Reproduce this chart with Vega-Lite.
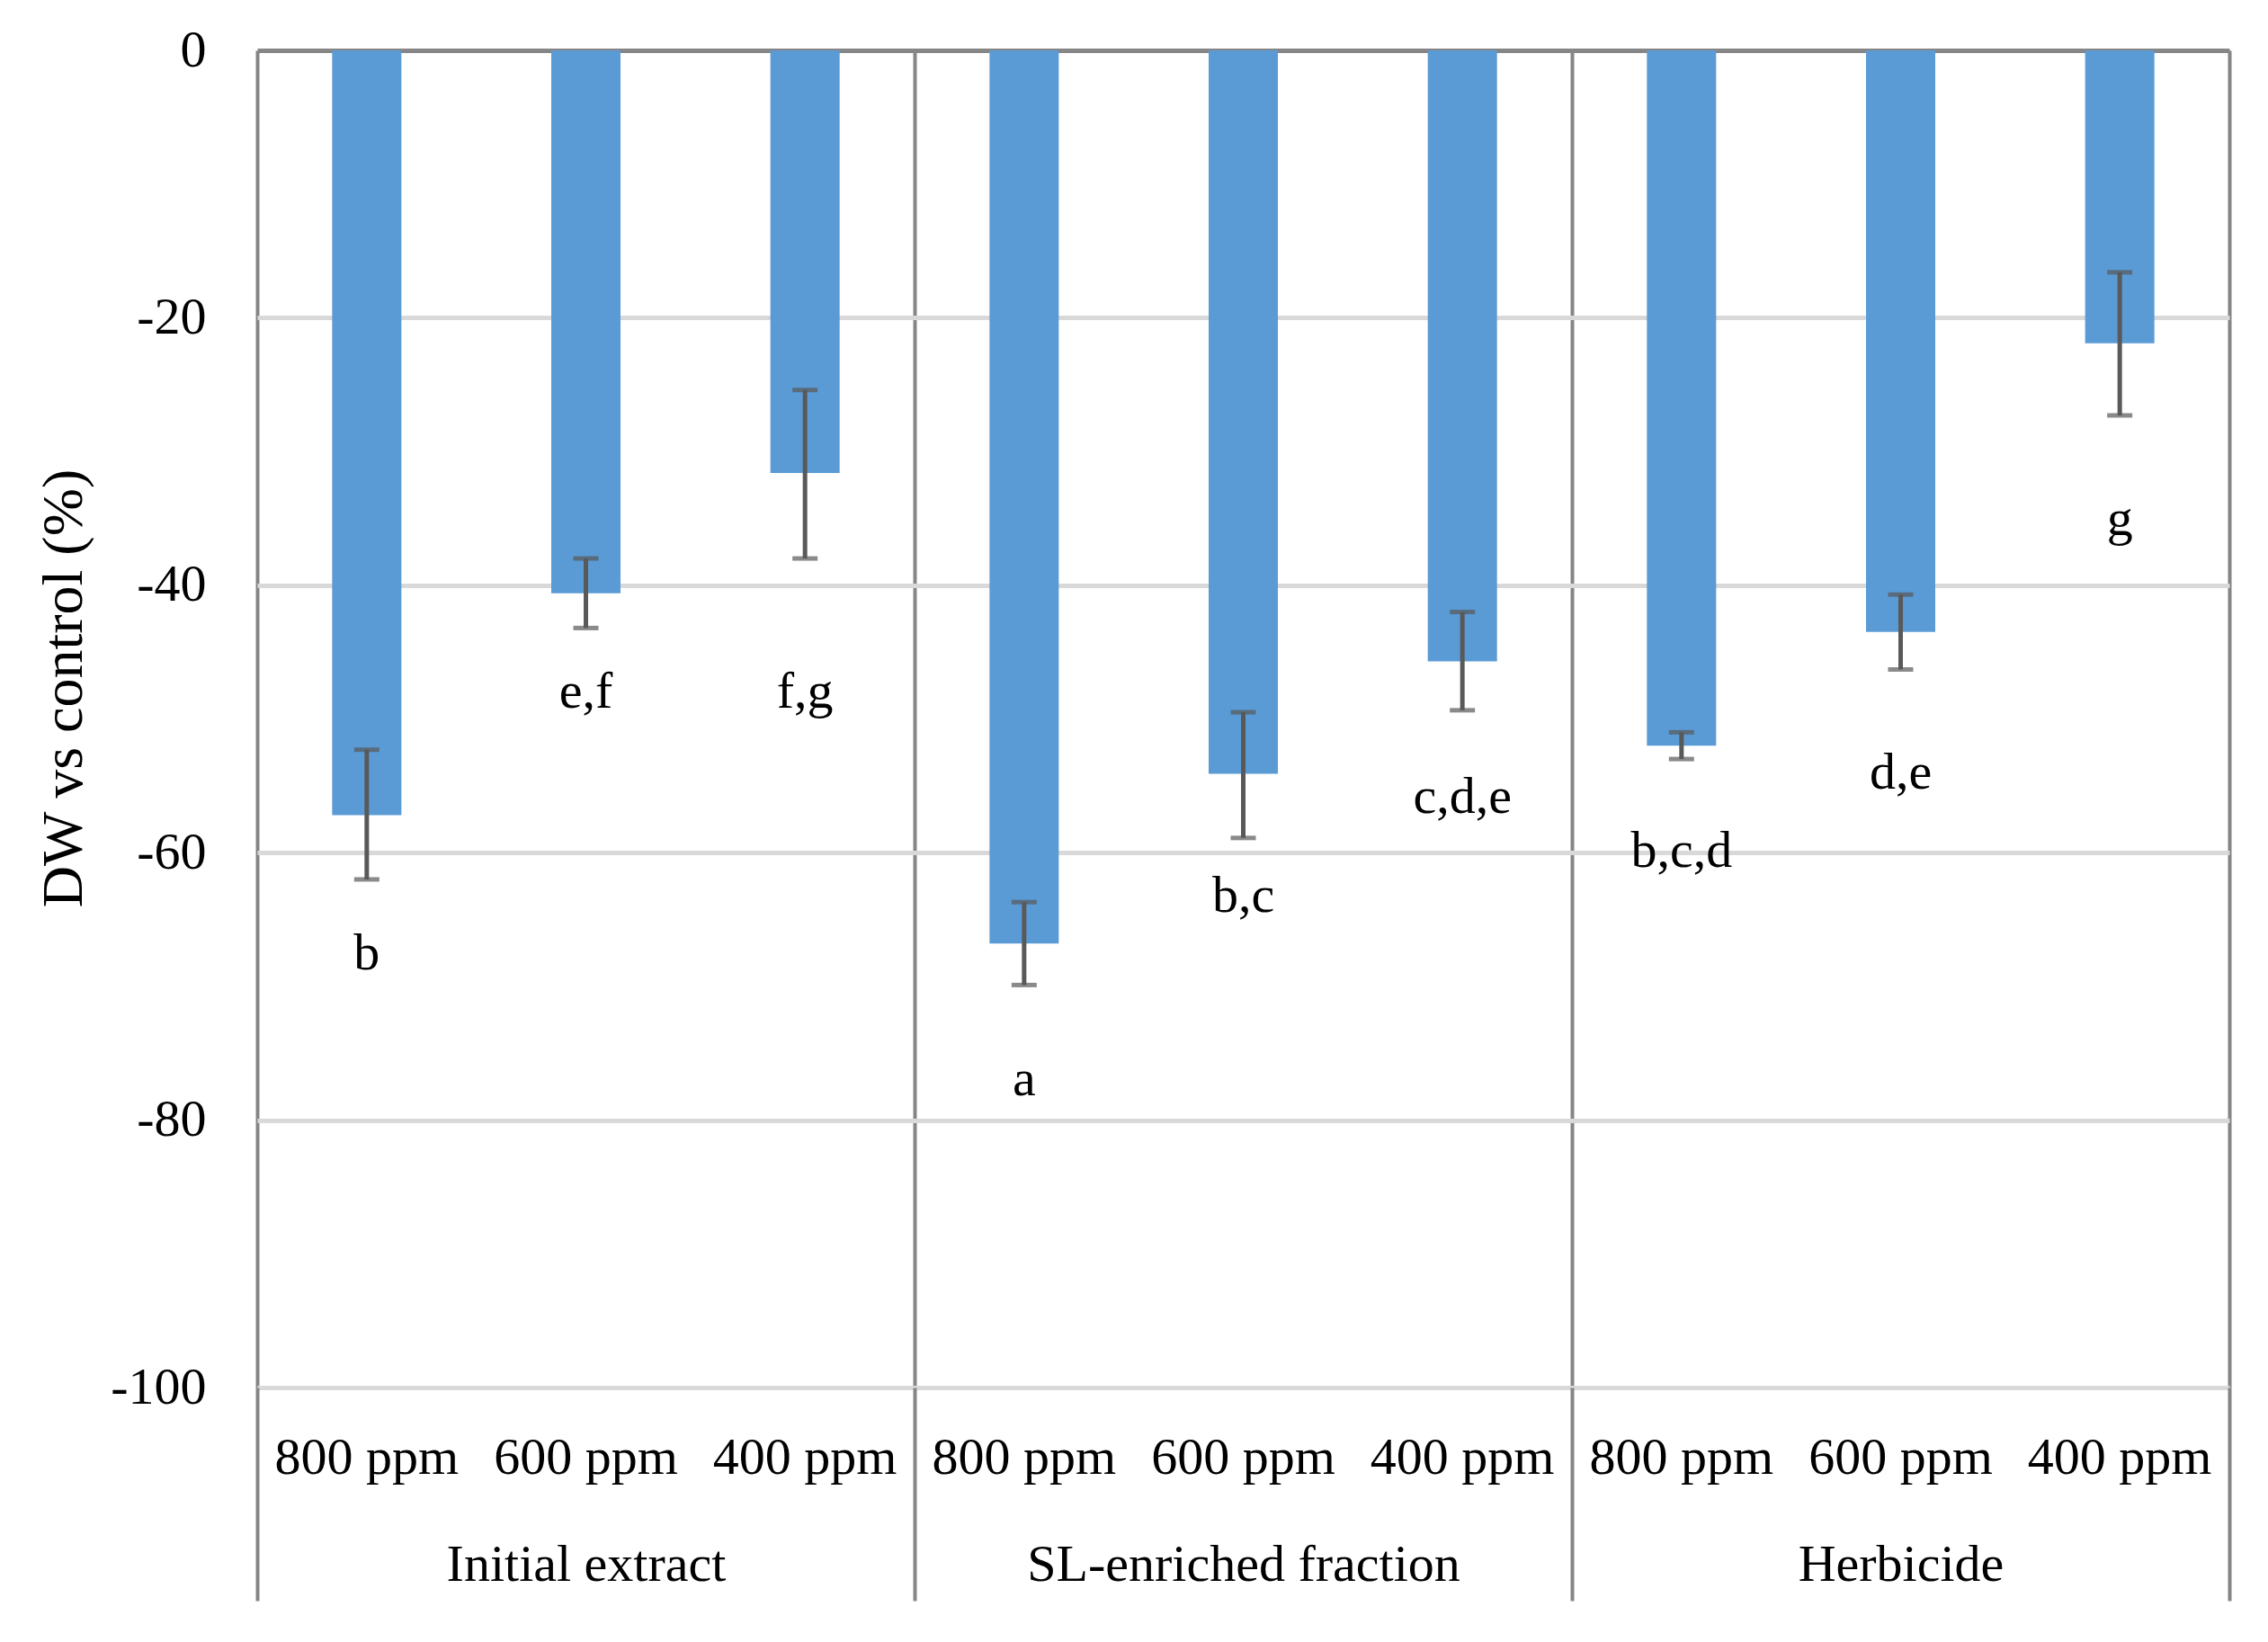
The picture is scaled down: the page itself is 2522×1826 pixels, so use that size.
{
  "$schema": "https://vega.github.io/schema/vega-lite/v6.json",
  "autosize": "none",
  "width": 2193,
  "height": 1487,
  "padding": {"left": 286, "top": 56, "right": 43, "bottom": 283},
  "background": "white",
  "config": {
    "font": "Liberation Serif",
    "view": {"stroke": null},
    "axis": {"labelColor": "#000000", "titleColor": "#000000", "labelFont": "Liberation Serif", "titleFont": "Liberation Serif", "labelLimit": 0}
  },
  "data": {
    "values": [
      {"group": "Initial extract", "dose": "800 ppm", "key": "Initial extract|800 ppm", "value": -57.2, "lo": -62.0, "hi": -52.3, "letter": "b", "label_y": -67.6},
      {"group": "Initial extract", "dose": "600 ppm", "key": "Initial extract|600 ppm", "value": -40.6, "lo": -43.2, "hi": -38.0, "letter": "e,f", "label_y": -48.0},
      {"group": "Initial extract", "dose": "400 ppm", "key": "Initial extract|400 ppm", "value": -31.6, "lo": -38.0, "hi": -25.4, "letter": "f,g", "label_y": -48.0},
      {"group": "SL-enriched fraction", "dose": "800 ppm", "key": "SL-enriched fraction|800 ppm", "value": -66.8, "lo": -69.9, "hi": -63.7, "letter": "a", "label_y": -77.0},
      {"group": "SL-enriched fraction", "dose": "600 ppm", "key": "SL-enriched fraction|600 ppm", "value": -54.1, "lo": -58.9, "hi": -49.5, "letter": "b,c", "label_y": -63.3},
      {"group": "SL-enriched fraction", "dose": "400 ppm", "key": "SL-enriched fraction|400 ppm", "value": -45.7, "lo": -49.35, "hi": -42.0, "letter": "c,d,e", "label_y": -55.9},
      {"group": "Herbicide", "dose": "800 ppm", "key": "Herbicide|800 ppm", "value": -52.0, "lo": -53.0, "hi": -51.0, "letter": "b,c,d", "label_y": -59.9},
      {"group": "Herbicide", "dose": "600 ppm", "key": "Herbicide|600 ppm", "value": -43.5, "lo": -46.3, "hi": -40.7, "letter": "d,e", "label_y": -54.1},
      {"group": "Herbicide", "dose": "400 ppm", "key": "Herbicide|400 ppm", "value": -21.9, "lo": -27.3, "hi": -16.6, "letter": "g", "label_y": -35.1}
    ]
  },
  "layer": [
    {
      "encoding": {
        "x": {
          "field": "key", "type": "nominal", "sort": null,
          "scale": {"paddingInner": 0.684, "paddingOuter": 0.342},
          "axis": {
            "orient": "bottom", "title": null, "domain": false, "ticks": false, "grid": false,
            "labelExpr": "split(datum.label, '|')[1]", "labelAngle": 0, "labelLimit": 0,
            "labelFontSize": 58, "labelPadding": 78, "labelBaseline": "middle"
          }
        }
      },
      "layer": [
        {
          "mark": {"type": "bar", "color": "#5B9BD5"},
          "encoding": {
            "y": {
              "field": "value", "type": "quantitative",
              "scale": {"domain": [-100, 0], "nice": false, "zero": false},
              "axis": {
                "values": [-100, -80, -60, -40, -20, 0],
                "labelExpr": "toString(datum.value)",
                "title": "DW vs control (%)", "titleFontSize": 64, "titleFontWeight": "normal", "titlePadding": 19, "titleY": 709,
                "labelFontSize": 58, "labelPadding": 57, "ticks": false, "domain": false,
                "grid": true, "gridWidth": 5,
                "gridColor": {"condition": {"test": "datum.value === 0", "value": "#868686"}, "value": "#D9D9D9"}
              }
            }
          }
        },
        {
          "mark": {"type": "rule", "color": "#595959", "strokeWidth": 5},
          "encoding": {
            "y": {"field": "lo", "type": "quantitative"},
            "y2": {"field": "hi"}
          }
        },
        {
          "mark": {"type": "tick", "color": "#595959", "size": 28, "thickness": 5, "orient": "horizontal"},
          "encoding": {"y": {"field": "lo", "type": "quantitative"}}
        },
        {
          "mark": {"type": "tick", "color": "#595959", "size": 28, "thickness": 5, "orient": "horizontal"},
          "encoding": {"y": {"field": "hi", "type": "quantitative"}}
        },
        {
          "mark": {"type": "text", "fontSize": 58, "baseline": "middle", "align": "center", "color": "#000000"},
          "encoding": {
            "y": {"field": "label_y", "type": "quantitative"},
            "text": {"field": "letter", "type": "nominal"}
          }
        }
      ]
    },
    {
      "mark": {"type": "point", "opacity": 0},
      "encoding": {
        "x": {
          "field": "group", "type": "nominal",
          "sort": ["Initial extract", "SL-enriched fraction", "Herbicide"],
          "scale": {"paddingInner": 0, "paddingOuter": 0},
          "axis": {
            "orient": "bottom", "title": null, "domain": false,
            "ticks": true, "tickBand": "extent", "tickSize": 237, "tickColor": "#858585", "tickWidth": 4,
            "grid": true, "gridColor": "#858585", "gridWidth": 4, "labelLimit": 0,
            "labelAngle": 0, "labelFontSize": 58, "labelPadding": -40, "labelBaseline": "middle"
          }
        },
        "y": {"field": "value", "type": "quantitative"}
      }
    }
  ],
  "resolve": {"scale": {"x": "independent"}}
}
